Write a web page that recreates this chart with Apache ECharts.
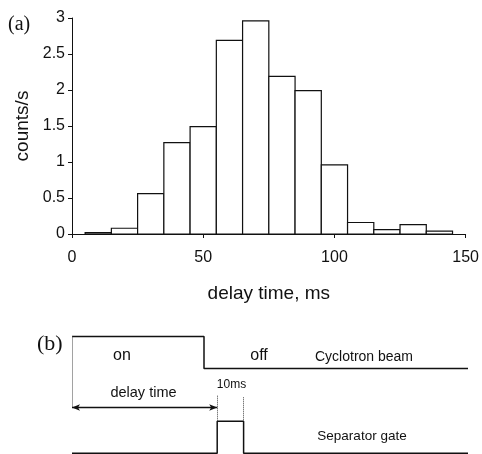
<!DOCTYPE html>
<html>
<head>
<meta charset="utf-8">
<script src="https://cdn.jsdelivr.net/npm/echarts@6/dist/echarts.min.js"></script>
<style>html,body{margin:0;padding:0;background:#fff}#c{width:482px;height:454px}</style>
</head>
<body>
<div id="c"></div>
<script>
// Histogram (a)
var binCenters = [10, 20, 30, 40, 50, 60, 70, 80, 90, 100, 110, 120, 130, 140];
var counts = [0.02, 0.08, 0.56, 1.27, 1.49, 2.69, 2.96, 2.19, 1.99, 0.96, 0.16, 0.06, 0.13, 0.04];
var binWidth = 10;
var xTicks = [0, 50, 100, 150];
var yTicks = [0, 0.5, 1, 1.5, 2, 2.5, 3];

// Timing diagram (b): times in ms, signal levels
var beamTimes = [0, 50, 50, 150];
var beamLevels = [3.65, 3.65, 2.65, 2.65];
var gateTimes = [0, 55, 55, 65, 65, 150];
var gateLevels = [0, 0, 1, 1, 0, 0];
var delayStart = 0, delayEnd = 55, arrowLevel = 1.43;

var FONT = '"Liberation Sans", Arial, sans-serif';
var SERIF = '"Liberation Serif", "Times New Roman", serif';
var INK = '#111';

var chart = echarts.init(document.getElementById('c'), null, {renderer: 'canvas'});

var histData = binCenters.map(function (c, i) { return [c, counts[i]]; });

var option = {
  animation: false,
  backgroundColor: '#fff',
  grid: [
    {left: 72, right: 14, top: 18, height: 216},
    {left: 72, right: 14, top: 325.3, height: 128}
  ],
  xAxis: [
    {
      gridIndex: 0, type: 'value', min: 0, max: 150, interval: 50,
      name: 'delay time, ms', nameLocation: 'middle', nameGap: 50,
      nameTextStyle: {fontFamily: FONT, fontSize: 19, color: INK},
      axisLine: {show: true, lineStyle: {color: INK, width: 1}},
      axisTick: {show: true, length: 4, lineStyle: {color: INK}},
      axisLabel: {fontFamily: FONT, fontSize: 16, color: INK, margin: 16,
        formatter: function (v) { return xTicks.indexOf(v) >= 0 ? String(v) : ''; }},
      splitLine: {show: false}
    },
    {
      gridIndex: 1, type: 'value', min: 0, max: 150, show: false
    }
  ],
  yAxis: [
    {
      gridIndex: 0, type: 'value', min: 0, max: 3, interval: 0.5,
      name: 'counts/s', nameLocation: 'middle', nameGap: 40,
      nameTextStyle: {fontFamily: FONT, fontSize: 19, color: INK},
      axisLine: {show: true, lineStyle: {color: INK, width: 1}},
      axisTick: {show: true, length: 4, lineStyle: {color: INK}},
      axisLabel: {fontFamily: FONT, fontSize: 16, color: INK, margin: 7,
        formatter: function (v) { return yTicks.indexOf(v) >= 0 ? String(v) : ''; }},
      splitLine: {show: false}
    },
    {
      gridIndex: 1, type: 'value', min: 0, max: 4, show: false
    }
  ],
  series: [
    {
      type: 'custom',
      xAxisIndex: 0, yAxisIndex: 0,
      data: histData,
      renderItem: function (params, api) {
        var c = api.value(0), v = api.value(1);
        var lo = Math.max(0, c - binWidth / 2), hi = c + binWidth / 2;
        var p1 = api.coord([lo, v]);
        var p2 = api.coord([hi, 0]);
        return {
          type: 'rect',
          shape: {x: p1[0], y: p1[1], width: p2[0] - p1[0], height: p2[1] - p1[1]},
          style: {fill: '#fff', stroke: INK, lineWidth: 1.2}
        };
      }
    },
    {
      type: 'line', xAxisIndex: 1, yAxisIndex: 1,
      data: beamTimes.map(function (t, i) { return [t, beamLevels[i]]; }),
      symbol: 'none', lineStyle: {color: INK, width: 1.5},
      markLine: {
        silent: true, symbol: ['none', 'none'], label: {show: false},
        lineStyle: {color: '#444', width: 1, type: 'dotted'},
        data: [
          [{coord: [delayStart, 3.65]}, {coord: [delayStart, arrowLevel]}],
          [{coord: [delayEnd, 1.8]}, {coord: [delayEnd, 1]}],
          [{coord: [65, 1.75]}, {coord: [65, 1]}]
        ]
      }
    },
    {
      type: 'line', xAxisIndex: 1, yAxisIndex: 1,
      data: gateTimes.map(function (t, i) { return [t, gateLevels[i]]; }),
      symbol: 'none', lineStyle: {color: INK, width: 1.5},
      markLine: {
        silent: true, symbol: ['arrow', 'arrow'], symbolSize: [5, 8], label: {show: false},
        lineStyle: {color: INK, width: 1.3, type: 'solid'},
        data: [
          [{coord: [delayStart, arrowLevel]}, {coord: [delayEnd, arrowLevel]}]
        ]
      }
    }
  ],
  graphic: [
    {type: 'text', left: 8, top: 15, style: {text: '(a)', font: '20px ' + SERIF, fill: INK}},
    {type: 'text', left: 37, top: 333, style: {text: '(b)', font: '22px ' + SERIF, fill: INK}},
    {type: 'text', x: 122, y: 356, style: {text: 'on', font: '16px ' + FONT, fill: INK, align: 'center', verticalAlign: 'middle'}},
    {type: 'text', x: 259, y: 356, style: {text: 'off', font: '16px ' + FONT, fill: INK, align: 'center', verticalAlign: 'middle'}},
    {type: 'text', x: 364, y: 357, style: {text: 'Cyclotron beam', font: '14px ' + FONT, fill: INK, align: 'center', verticalAlign: 'middle'}},
    {type: 'text', x: 143.5, y: 393, style: {text: 'delay time', font: '14.5px ' + FONT, fill: INK, align: 'center', verticalAlign: 'middle'}},
    {type: 'text', x: 231.5, y: 385, style: {text: '10ms', font: '12px ' + FONT, fill: INK, align: 'center', verticalAlign: 'middle'}},
    {type: 'text', x: 362, y: 436, style: {text: 'Separator gate', font: '13.5px ' + FONT, fill: INK, align: 'center', verticalAlign: 'middle'}}
  ]
};
chart.setOption(option);
</script>
</body>
</html>
